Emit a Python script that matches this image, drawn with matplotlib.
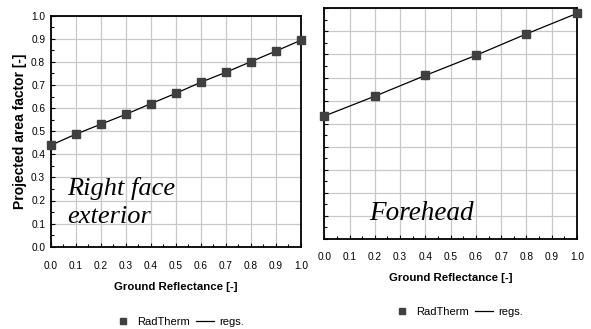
import matplotlib
matplotlib.use("Agg")
import matplotlib.pyplot as plt
from matplotlib.ticker import MultipleLocator
from matplotlib.lines import Line2D

plt.rcParams['font.family'] = ['Liberation Sans', 'DejaVu Sans']

# Data
x_right_face = [0.0, 0.1, 0.2, 0.3, 0.4, 0.5, 0.6, 0.7, 0.8, 0.9, 1.0]
y_right_face = [0.439, 0.487, 0.530, 0.573, 0.619, 0.664, 0.712, 0.755, 0.801, 0.847, 0.894]
x_forehead = [0.0, 0.2, 0.4, 0.6, 0.8, 1.0]
y_forehead = [0.533, 0.619, 0.709, 0.796, 0.889, 0.978]
xtick_labels = ['0.0', '0.1', '0.2', '0.3', '0.4', '0.5', '0.6', '0.7', '0.8', '0.9', '1.0']
ytick_labels = ['0.0', '0.1', '0.2', '0.3', '0.4', '0.5', '0.6', '0.7', '0.8', '0.9', '1.0']

W, H = 591, 329
fig = plt.figure(figsize=(W/100, H/100), dpi=100)

def make_ax(l, b, w, h):
    return fig.add_axes([l/W, b/H, w/W, h/H])

axL = make_ax(50.7, H-246.7, 250.3, 231)
axR = make_ax(324.3, H-239, 252.7, 230.7)

marker_color = '#404040'
grid_color = '#c8c8c8'

for ax, xs, ys in [(axL, x_right_face, y_right_face), (axR, x_forehead, y_forehead)]:
    ax.set_xlim(0, 1)
    ax.set_ylim(0, 1)
    ax.plot(xs, ys, color='black', lw=0.9, zorder=3, clip_on=False)
    ax.plot(xs, ys, ls='none', marker='s', ms=5.5, mfc=marker_color, mec=marker_color, zorder=4, clip_on=False)
    ax.xaxis.set_major_locator(MultipleLocator(0.1))
    ax.yaxis.set_major_locator(MultipleLocator(0.1))
    ax.xaxis.set_minor_locator(MultipleLocator(0.05))
    ax.yaxis.set_minor_locator(MultipleLocator(0.05))
    ax.grid(True, which='major', color=grid_color, lw=0.9, zorder=0)
    for s in ax.spines.values():
        s.set_color('black')
        s.set_linewidth(1.3)
    ax.tick_params(which='both', direction='in', color='black', labelsize=7.3)
    ax.tick_params(which='major', length=3, width=0.8)
    ax.tick_params(which='minor', length=2, width=0.8)
    ax.set_xticks([i/10 for i in range(11)])
    ax.set_xticklabels(xtick_labels)

axL.set_yticks([i/10 for i in range(11)])
axL.set_yticklabels(ytick_labels)
axL.tick_params(axis='x', pad=10)
axL.tick_params(axis='y', pad=4)
axR.tick_params(axis='x', pad=9)
axR.tick_params(axis='y', labelleft=False)

axL.set_xlabel('Ground Reflectance [-]', fontsize=8.2, fontweight='bold', labelpad=8)
axR.set_xlabel('Ground Reflectance [-]', fontsize=8.2, fontweight='bold', labelpad=8)
axL.set_ylabel('Projected area factor [-]', fontsize=10, fontweight='bold', labelpad=3)

serif = ['Liberation Serif', 'DejaVu Serif']
axL.text(67/W, (H-223.3)/H, 'Right face\nexterior', transform=fig.transFigure,
         fontsize=19, style='italic', family=serif, ha='left', va='baseline', linespacing=1.36)
axR.text(369/W, (H-220)/H, 'Forehead', transform=fig.transFigure,
         fontsize=19.5, style='italic', family=serif, ha='left', va='baseline')

handles = [Line2D([], [], ls='none', marker='s', ms=5, mfc=marker_color, mec=marker_color),
           Line2D([], [], color='black', lw=0.9)]
labels = ['RadTherm', 'regs.']
for cx, cy in [(179/W, (H-322)/H), (458/W, (H-312)/H)]:
    fig.legend(handles, labels, loc='center', bbox_to_anchor=(cx, cy), ncol=2, frameon=False,
               fontsize=8, handlelength=1.6, handletextpad=0.5, columnspacing=0.5)

fig.savefig('out.png', dpi=100)
